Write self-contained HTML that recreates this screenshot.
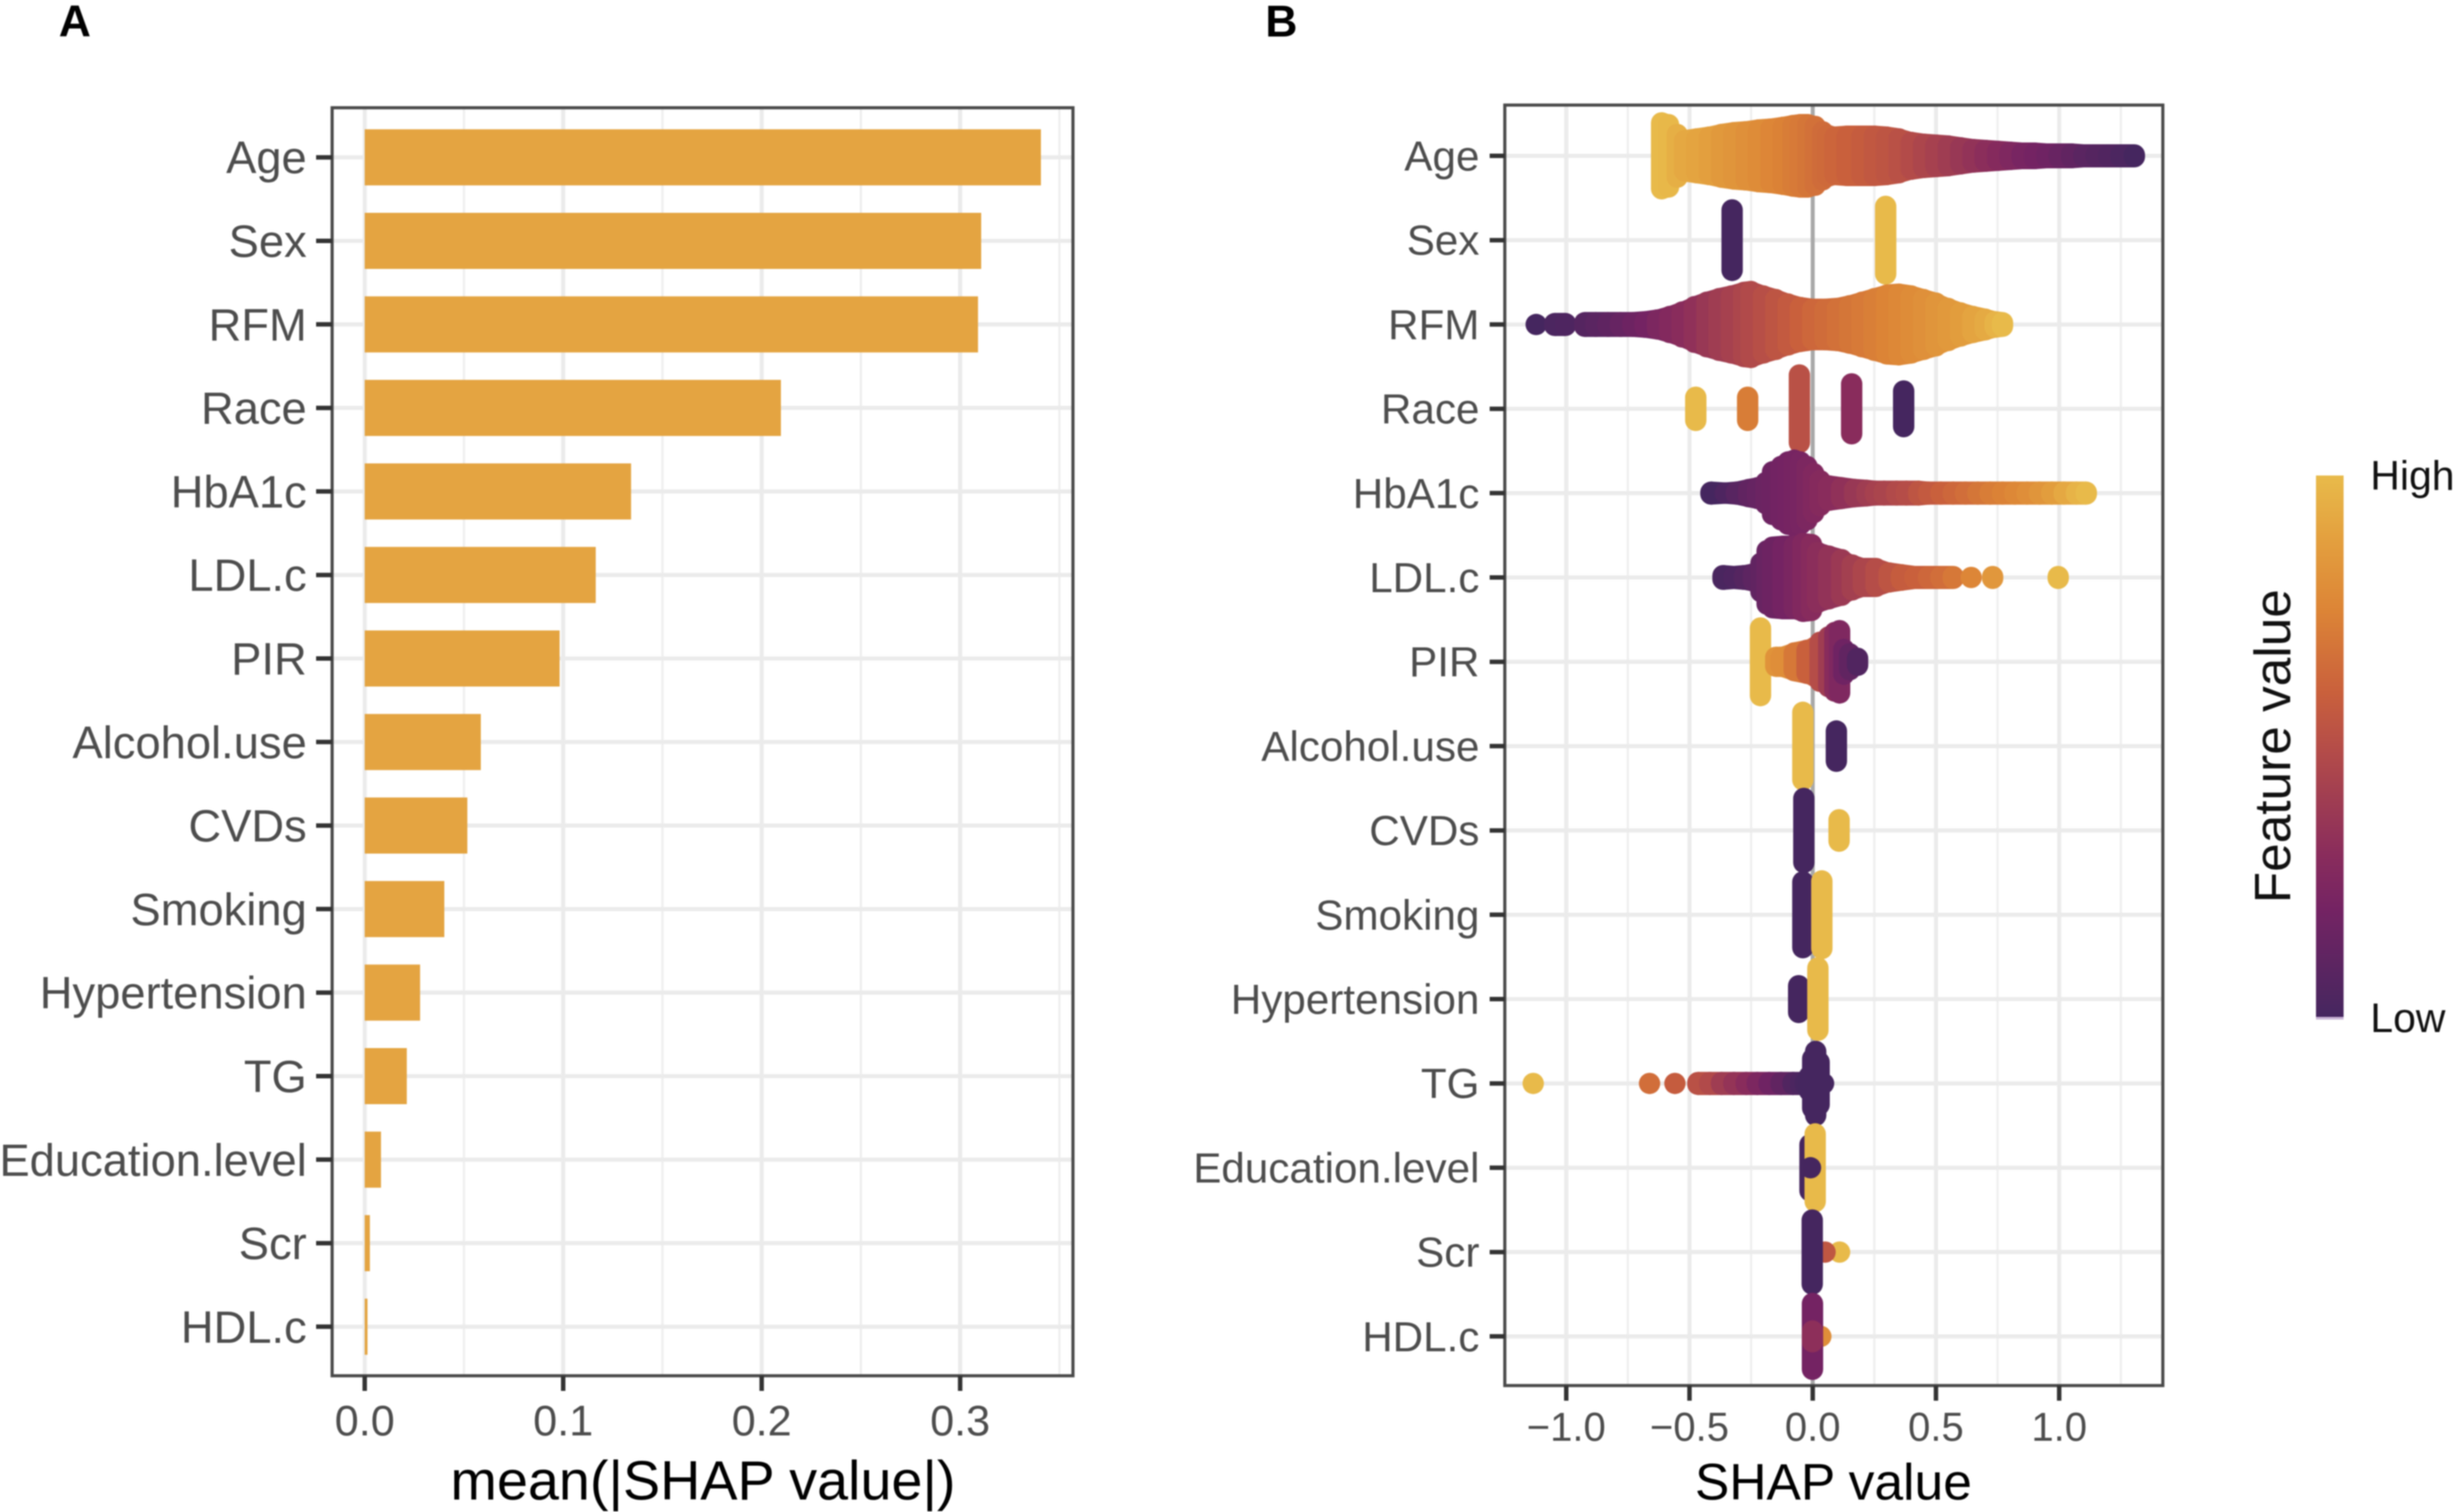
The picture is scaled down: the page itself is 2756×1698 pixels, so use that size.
<!DOCTYPE html>
<html lang="en">
<head>
<meta charset="utf-8">
<title>SHAP feature importance</title>
<style>
html,body{margin:0;padding:0;background:#fff;}
svg{display:block;font-family:"Liberation Sans",Arial,sans-serif;filter:blur(0.7px);}
</style>
</head>
<body>
<svg id="chart" xmlns="http://www.w3.org/2000/svg" width="2756" height="1698" viewBox="0 0 2756 1698">
<defs>
<linearGradient id="inferno-ramp" x1="0" y1="1" x2="0" y2="0">
<stop offset="0" stop-color="#45265f"/>
<stop offset="0.2" stop-color="#742363"/>
<stop offset="0.3" stop-color="#892c5c"/>
<stop offset="0.5" stop-color="#b54d48"/>
<stop offset="0.6" stop-color="#c9603c"/>
<stop offset="0.75" stop-color="#dc8436"/>
<stop offset="0.88" stop-color="#e39f3e"/>
<stop offset="1" stop-color="#e8ba4a"/>
</linearGradient>
</defs>
</svg>
<script>
const featureNames = ["Age","Sex","RFM","Race","HbA1c","LDL.c","PIR","Alcohol.use","CVDs","Smoking","Hypertension","TG","Education.level","Scr","HDL.c"];
const meanShap = [0.3407,0.3106,0.309,0.2097,0.1342,0.1164,0.0982,0.0585,0.0517,0.0401,0.0279,0.0212,0.0082,0.0026,0.0014];
const barTicks = [0,0.1,0.2,0.3];
const barTickLabels = ["0.0","0.1","0.2","0.3"];
const barMinorTicks = [0.05,0.15,0.25,0.35];
const swarmTicks = [-1,-0.5,0,0.5,1];
const swarmTickLabels = ["\u22121.0","\u22120.5","0.0","0.5","1.0"];
const swarmMinorTicks = [-0.75,-0.25,0.25,0.75,1.25];

const ageShap = [-0.613,-0.585,-0.55,-0.52,-0.47,-0.42,-0.37,-0.32,-0.27,-0.22,-0.17,-0.12,-0.08,-0.05,-0.02,0.01,0.04,0.06,0.09,0.14,0.2,0.25,0.3,0.35,0.4,0.45,0.5,0.55,0.6,0.65,0.7,0.75,0.8,0.85,0.9,0.95,1.0,1.05,1.1,1.15,1.2,1.25,1.305];
const ageDensity = [37,35,24,17,19,21,24,26,27,29,30,32,34,35,35,33,27,23,21,22,22,22,21,19,15,13,12,11,9,7,6,5,4,3,3,2,2,2,1,1,1,1,1];
const ageFeature = [1,.99,.95,.92,.9,.88,.85,.83,.81,.79,.76,.74,.72,.71,.69,.67,.65,.64,.62,.6,.58,.56,.54,.52,.49,.46,.43,.4,.37,.34,.31,.28,.25,.22,.2,.18,.15,.12,.09,.07,.05,.03,0];

const sexShap = [-0.327,0.296];
const sexDensity = [34,38];
const sexFeature = [0,1];

const rfmShap = [-1.122,-1.047,-1.003,-0.925,-0.88,-0.83,-0.78,-0.73,-0.68,-0.63,-0.58,-0.53,-0.48,-0.43,-0.38,-0.33,-0.28,-0.25,-0.2,-0.15,-0.1,-0.05,0,0.05,0.1,0.15,0.2,0.25,0.3,0.35,0.4,0.45,0.5,0.55,0.6,0.65,0.7,0.74,0.77];
const rfmDensity = [0,1,1,2,2,2,2,2,3,5,9,14,20,25,29,32,36,37,32,28,23,19,17,17,18,21,25,29,33,34,32,28,24,18,13,9,6,3,2];
const rfmFeature = [0,.03,.04,.07,.09,.11,.14,.17,.2,.24,.27,.3,.33,.37,.4,.43,.46,.48,.51,.54,.57,.6,.63,.65,.67,.69,.71,.73,.75,.77,.79,.81,.83,.85,.87,.9,.93,.97,1];

const raceShap = [-0.4745,-0.264,-0.054,0.158,0.369];
const raceDensity = [13,13,38,28,20];
const raceFeature = [1,.72,.52,.3,0];

const hba1cShap = [-0.413,-0.355,-0.31,-0.26,-0.224,-0.19,-0.163,-0.128,-0.1,-0.075,-0.05,-0.023,0.004,0.03,0.065,0.117,0.17,0.22,0.255,0.29,0.34,0.38,0.43,0.47,0.52,0.57,0.62,0.67,0.72,0.77,0.82,0.87,0.92,0.97,1.02,1.07,1.11];
const hba1cDensity = [1,0,1,4,6,12,24,30,35,37,35,30,22,14,8,6,4,3,2,2,2,2,2,1,1,1,1,1,1,1,1,1,1,1,1,1,1];
const hba1cFeature = [0,.04,.08,.12,.14,.16,.17,.19,.2,.21,.22,.24,.26,.28,.3,.33,.37,.4,.43,.45,.48,.5,.54,.57,.6,.63,.66,.69,.72,.74,.77,.8,.83,.87,.92,.97,1];

const ldlShap = [-0.364,-0.32,-0.277,-0.24,-0.21,-0.185,-0.163,-0.12,-0.075,-0.04,-0.005,0.02,0.065,0.117,0.16,0.205,0.257,0.31,0.36,0.415,0.47,0.52,0.57,0.643,0.73,0.996];
const ldlDensity = [2,1,2,4,16,30,34,35,35,38,37,28,24,20,14,10,10,5,3,1,1,1,1,0,1,1];
const ldlFeature = [.02,.04,.07,.1,.12,.15,.17,.2,.23,.26,.29,.31,.34,.38,.42,.46,.5,.54,.58,.6,.63,.66,.7,.76,.84,1];

const pirShap = [-0.212,-0.15,-0.128,-0.075,-0.023,0.03,0.065,0.09,0.109,0.126,0.15,0.182];
const pirDensity = [38,5,5,10,13,22,28,33,35,14,9,4];
const pirFeature = [1,.82,.8,.7,.6,.5,.4,.3,.25,.18,.12,.05];

const alcoholShap = [-0.04,0.096];
const alcoholDensity = [38,17];
const alcoholFeature = [1,0];

const cvdShap = [-0.036,0.107];
const cvdDensity = [36,12];
const cvdFeature = [0,1];

const smokingShap = [-0.04,0.037];
const smokingDensity = [37,38];
const smokingFeature = [0,1];

const hypertensionShap = [-0.057,0.021];
const hypertensionDensity = [15,35];
const hypertensionFeature = [0,1];

const tgShap = [-1.134,-0.662,-0.559,-0.466,-0.418,-0.37,-0.32,-0.27,-0.225,-0.177,-0.129,-0.08,-0.05,-0.03,-0.014,0,0.012,0.026,0.044];
const tgDensity = [0,0,0,1,1,1,1,1,1,1,1,1,1,1,8,28,36,24,0];
const tgFeature = [1,.66,.58,.52,.48,.4,.35,.3,.24,.18,.12,.05,.03,.01,0,0,0,0,0];

const educationShap = [-0.011,0.01,-0.009];
const educationDensity = [26,38,0];
const educationFeature = [0,1,0];

const scrShap = [0.109,0.05,-0.002];
const scrDensity = [0,0,36];
const scrFeature = [1,.55,0];

const hdlShap = [0.033,-0.001,-0.001];
const hdlDensity = [0,37,6];
const hdlFeature = [.8,.2,.32];

const swarmShap = [ageShap,sexShap,rfmShap,raceShap,hba1cShap,ldlShap,pirShap,alcoholShap,cvdShap,smokingShap,hypertensionShap,tgShap,educationShap,scrShap,hdlShap];
const swarmDensity = [ageDensity,sexDensity,rfmDensity,raceDensity,hba1cDensity,ldlDensity,pirDensity,alcoholDensity,cvdDensity,smokingDensity,hypertensionDensity,tgDensity,educationDensity,scrDensity,hdlDensity];
const swarmFeature = [ageFeature,sexFeature,rfmFeature,raceFeature,hba1cFeature,ldlFeature,pirFeature,alcoholFeature,cvdFeature,smokingFeature,hypertensionFeature,tgFeature,educationFeature,scrFeature,hdlFeature];

const svg = document.getElementById('chart');
const NS = 'http://www.w3.org/2000/svg';

function slug(s){ return s.toLowerCase().replace(/[^a-z0-9]+/g,'-'); }

function mk(tag, attrs, text){
  const el = document.createElementNS(NS, tag);
  for (const k in attrs) el.setAttribute(k, attrs[k]);
  if (text !== undefined) el.textContent = text;
  svg.appendChild(el);
  return el;
}

function hex(c){ return [parseInt(c.slice(1,3),16),parseInt(c.slice(3,5),16),parseInt(c.slice(5,7),16)]; }
const rampAt = [0,0.2,0.3,0.5,0.6,0.75,0.88,1];
const rampCol = ['#45265f','#742363','#892c5c','#b54d48','#c9603c','#dc8436','#e39f3e','#e8ba4a'];
function colorScale(t){
  let i = 0;
  while (i < rampAt.length-2 && t > rampAt[i+1]) i++;
  const f = Math.max(0,Math.min(1,(t-rampAt[i])/(rampAt[i+1]-rampAt[i])));
  const a = hex(rampCol[i]), b = hex(rampCol[i+1]);
  return 'rgb('+a.map((v,j)=>Math.round(v+(b[j]-v)*f)).join(',')+')';
}

/* ---------- panel A ---------- */
const xA = v => 409.6 + 2229*v;
const yA = i => 176.7 + 93.8*i;
const frameA = {l:373,t:121,r:1205,b:1545};

barMinorTicks.forEach(t=>{
  const el = mk('line',{x1:xA(t),x2:xA(t),y1:frameA.t,y2:frameA.b,stroke:'#efefef','stroke-width':2.6});
  
  
});
barTicks.forEach(t=>{
  const el = mk('line',{x1:xA(t),x2:xA(t),y1:frameA.t,y2:frameA.b,stroke:'#ebebeb','stroke-width':4.6});
  
  
});
featureNames.forEach((n,i)=>{
  const el = mk('line',{x1:frameA.l,x2:frameA.r,y1:yA(i),y2:yA(i),stroke:'#ebebeb','stroke-width':4.6});
  
  
});
featureNames.forEach((n,i)=>{
  const el = mk('rect',{x:xA(0),y:yA(i)-31.5,width:xA(meanShap[i])-xA(0),height:63,fill:'#e4a441'});
  
  
});
const frameAEl = mk('rect',{x:frameA.l,y:frameA.t,width:frameA.r-frameA.l,height:frameA.b-frameA.t,fill:'none',stroke:'#4a4a4a','stroke-width':3.5});



featureNames.forEach((n,i)=>{
  const tick = mk('line',{x1:frameA.l-18,x2:frameA.l,y1:yA(i),y2:yA(i),stroke:'#333','stroke-width':5});
  
  
  const lab = mk('text',{x:344.5,y:yA(i)+18,'text-anchor':'end','font-size':50.9,fill:'#4d4d4d'},n);
  
  
});
barTicks.forEach((t,i)=>{
  const tick = mk('line',{x1:xA(t),x2:xA(t),y1:frameA.b,y2:frameA.b+17,stroke:'#333','stroke-width':5});
  
  
  const lab = mk('text',{x:xA(t),y:1612,'text-anchor':'middle','font-size':48.5,fill:'#4d4d4d'},barTickLabels[i]);
  
  
});
const titleA = mk('text',{x:789.5,y:1684,'text-anchor':'middle','font-size':62.6,fill:'#000'},'mean(|SHAP value|)');


const tagA = mk('text',{x:66,y:41,'font-size':50,'font-weight':'bold',fill:'#000'},'A');



/* ---------- panel B ---------- */
const xB = v => 2035.8 + 276.8*v;
const yB = i => 175 + 94.7*i;
const spread = d => d*94.7/94.7;
const pointRadius = 12;
const bridgeMaxGap = 0.06;
const bridgeMaxColourStep = 0.25;
const frameB = {l:1690,t:118,r:2429,b:1556};

swarmMinorTicks.forEach(t=>{
  const el = mk('line',{x1:xB(t),x2:xB(t),y1:frameB.t,y2:frameB.b,stroke:'#efefef','stroke-width':2.6});
  
  
});
swarmTicks.forEach(t=>{
  const el = mk('line',{x1:xB(t),x2:xB(t),y1:frameB.t,y2:frameB.b,stroke:'#ebebeb','stroke-width':4.6});
  
  
});
featureNames.forEach((n,i)=>{
  const el = mk('line',{x1:frameB.l,x2:frameB.r,y1:yB(i),y2:yB(i),stroke:'#ebebeb','stroke-width':4.6});
  
  
});
const zeroLine = mk('line',{x1:xB(0),x2:xB(0),y1:frameB.t,y2:frameB.b,stroke:'#a9a9a9','stroke-width':4.5});



featureNames.forEach((n,i)=>{
  const vals = swarmShap[i], dens = swarmDensity[i], feat = swarmFeature[i];
  vals.forEach((v,j)=>{
    const d = spread(dens[j]);
    const col = colorScale(feat[j]);
    const el = mk('line',{x1:xB(v),x2:xB(v),y1:yB(i)-d,y2:yB(i)+d+0.01,stroke:col,'stroke-width':pointRadius*2,'stroke-linecap':'round'});
    
    
    if (j < vals.length-1) {
      const gap = vals[j+1]-v;
      if (gap > 0 && gap <= bridgeMaxGap && Math.abs(feat[j+1]-feat[j]) <= bridgeMaxColourStep) {
        const a = spread(dens[j])+pointRadius, b = spread(dens[j+1])+pointRadius;
        const x0 = xB(v), x1 = xB(vals[j+1]), y0 = yB(i);
        const pts = [[x0,y0-a],[x1,y0-b],[x1,y0+b],[x0,y0+a]].map(p=>p.join(',')).join(' ');
        const band = mk('polygon',{points:pts,fill:col});
        
        
      }
    }
  });
});

const frameBEl = mk('rect',{x:frameB.l,y:frameB.t,width:frameB.r-frameB.l,height:frameB.b-frameB.t,fill:'none',stroke:'#4a4a4a','stroke-width':3.5});



featureNames.forEach((n,i)=>{
  const tick = mk('line',{x1:frameB.l-17,x2:frameB.l,y1:yB(i),y2:yB(i),stroke:'#333','stroke-width':5});
  
  
  const lab = mk('text',{x:1661.5,y:yB(i)+16.5,'text-anchor':'end','font-size':47.4,fill:'#4d4d4d'},n);
  
  
});
swarmTicks.forEach((t,i)=>{
  const tick = mk('line',{x1:xB(t),x2:xB(t),y1:frameB.b,y2:frameB.b+17,stroke:'#333','stroke-width':5});
  
  
  const lab = mk('text',{x:xB(t),y:1618,'text-anchor':'middle','font-size':45,fill:'#4d4d4d'},swarmTickLabels[i]);
  
  
});
const titleB = mk('text',{x:2059,y:1684,'text-anchor':'middle','font-size':57.9,fill:'#000'},'SHAP value');


const tagB = mk('text',{x:1421,y:41,'font-size':50,'font-weight':'bold',fill:'#000'},'B');



/* ---------- colour legend ---------- */
const bar = mk('rect',{x:2601,y:534,width:31,height:609,fill:'url(#inferno-ramp)'});


const barEdge = mk('rect',{x:2601,y:1142,width:31,height:3,fill:'#c9b3d6'});


const high = mk('text',{x:2662,y:550,'font-size':46,fill:'#111'},'High');


const low = mk('text',{x:2662,y:1159,'font-size':46,fill:'#111'},'Low');


const legendTitle = mk('text',{x:0,y:0,transform:'translate(2572 838) rotate(-90)','text-anchor':'middle','font-size':57.7,fill:'#111'},'Feature value');


</script>
</body>
</html>
